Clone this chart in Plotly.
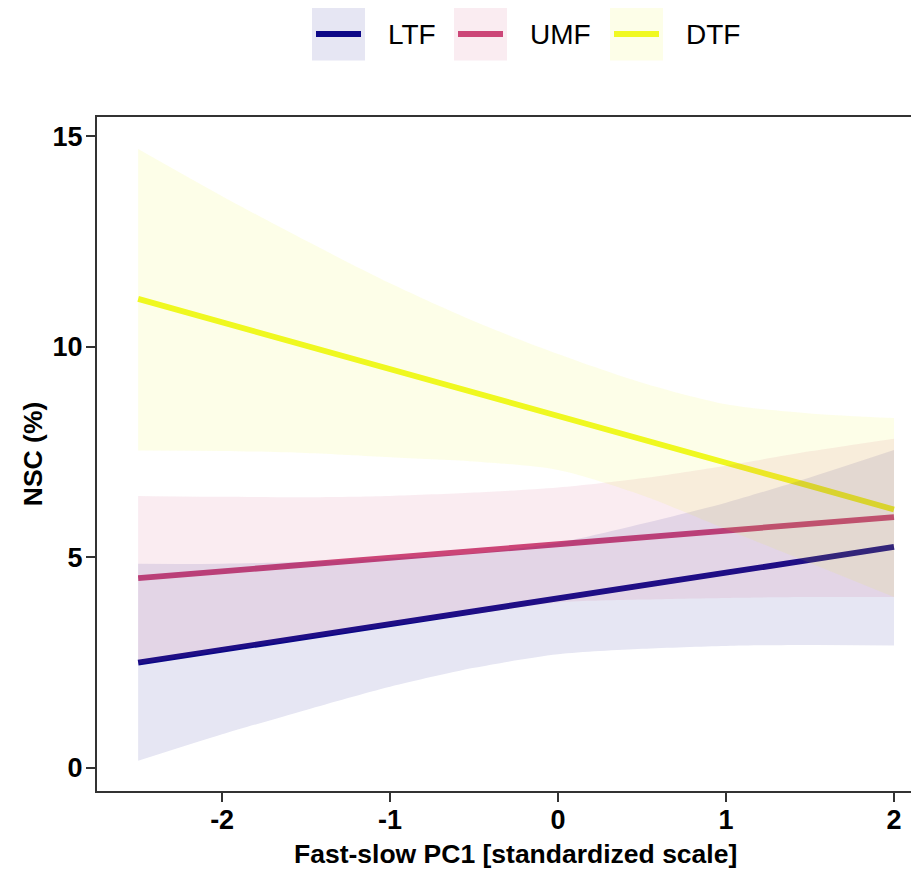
import plotly.graph_objects as go

# ---------------- data ----------------
x_grid = [-2.5, -2.0, -1.5, -1.0, -0.5, 0.0, 0.5, 1.0, 1.5, 2.0]

groups = ["LTF", "UMF", "DTF"]
colors = {"LTF": "#0D0887", "UMF": "#CC4678", "DTF": "#F0F921"}
fills = {"LTF": "rgba(13,8,135,0.10)", "UMF": "rgba(204,70,120,0.10)", "DTF": "rgba(240,249,33,0.10)"}

ltf_fit = [2.50, 2.81, 3.11, 3.42, 3.72, 4.03, 4.33, 4.64, 4.94, 5.25]
ltf_lower = [0.17, 0.80, 1.38, 1.93, 2.38, 2.70, 2.83, 2.90, 2.92, 2.91]
ltf_upper = [4.85, 4.85, 4.90, 4.98, 5.10, 5.35, 5.80, 6.30, 6.90, 7.55]

umf_fit = [4.51, 4.67, 4.83, 4.99, 5.15, 5.32, 5.48, 5.64, 5.80, 5.96]
umf_lower = [2.47, 2.78, 3.08, 3.38, 3.66, 3.93, 4.00, 4.04, 4.06, 4.06]
umf_upper = [6.46, 6.44, 6.43, 6.46, 6.54, 6.66, 6.88, 7.18, 7.52, 7.82]

dtf_fit = [11.14, 10.58, 10.03, 9.47, 8.92, 8.36, 7.81, 7.25, 6.70, 6.14]
dtf_lower = [7.54, 7.53, 7.48, 7.38, 7.28, 7.08, 6.48, 5.67, 4.87, 4.06]
dtf_upper = [14.70, 13.58, 12.52, 11.51, 10.61, 9.83, 9.15, 8.64, 8.42, 8.31]

fits = {"LTF": ltf_fit, "UMF": umf_fit, "DTF": dtf_fit}
lowers = {"LTF": ltf_lower, "UMF": umf_lower, "DTF": dtf_lower}
uppers = {"LTF": ltf_upper, "UMF": umf_upper, "DTF": dtf_upper}

x_ticks = [-2, -1, 0, 1, 2]
y_ticks = [0, 5, 10, 15]

x_title = "Fast-slow PC1 [standardized scale]"
y_title = "NSC (%)"

# ---------------- figure ----------------
fig = go.Figure()

# lines first (ribbons are drawn over them, as in the reference)
for g in groups:
    fig.add_trace(go.Scatter(x=x_grid, y=fits[g], mode="lines",
                             line=dict(color=colors[g], width=5.8),
                             name=g, showlegend=False, hoverinfo="skip"))

for g in groups:
    fig.add_trace(go.Scatter(x=x_grid, y=lowers[g], mode="lines",
                             line=dict(width=0, shape="spline", smoothing=0.8),
                             showlegend=False, hoverinfo="skip"))
    fig.add_trace(go.Scatter(x=x_grid, y=uppers[g], mode="lines",
                             line=dict(width=0, shape="spline", smoothing=0.8),
                             fill="tonexty", fillcolor=fills[g],
                             showlegend=False, hoverinfo="skip"))

# the page body adds an 8px offset; the figure fills the rest of the window
OFF = 8
W, H = 919 - OFF, 870 - OFF
L, R, T, B = 97 - OFF, 0, 116.5 - OFF, 79
pw, ph = W - L - R, H - T - B

def px_x(p):
    return (p - OFF - L) / pw

def px_y(p):
    return (H - B - (p - OFF)) / ph

# manual legend (ggplot-style keys), positions in window pixels
key_left = {"LTF": 312, "UMF": 454, "DTF": 610}
for g in groups:
    k = key_left[g]
    fig.add_shape(type="rect", xref="paper", yref="paper",
                  x0=px_x(k), x1=px_x(k + 53), y0=px_y(60), y1=px_y(7),
                  fillcolor=fills[g], line=dict(width=0), layer="above")
    fig.add_shape(type="line", xref="paper", yref="paper",
                  x0=px_x(k + 4), x1=px_x(k + 49), y0=px_y(33.5), y1=px_y(33.5),
                  line=dict(color=colors[g], width=6), layer="above")
    fig.add_annotation(x=px_x(k + 74), y=px_y(33.5), xref="paper", yref="paper",
                       text=g, showarrow=False, xanchor="left", yanchor="middle",
                       font=dict(family="Liberation Sans, Arial, sans-serif", size=28, color="#000000"))

tick_font = dict(family="Liberation Sans, Arial, sans-serif", size=27, color="#000000")
title_font = dict(family="Liberation Sans, Arial, sans-serif", size=26.5, color="#000000")

# x-axis title centred on the full (partly off-window) panel, as in the reference
fig.add_annotation(x=px_x(515), y=px_y(854), xref="paper", yref="paper",
                   text="<b>%s</b>" % x_title, showarrow=False,
                   xanchor="center", yanchor="middle", font=title_font)

fig.update_layout(
    width=W, height=H,
    margin=dict(l=L, r=R, t=T, b=B, autoexpand=False),
    paper_bgcolor="white", plot_bgcolor="white",
    showlegend=False,
    font=dict(family="Liberation Sans, Arial, sans-serif"),
)

fig.update_xaxes(
    range=[-2.745, 2.149],
    tickmode="array", tickvals=x_ticks, ticktext=["<b>%s</b>" % v for v in x_ticks],
    ticks="outside", ticklen=9, tickwidth=2, tickcolor="#333333",
    ticklabelstandoff=-5,
    showline=True, linecolor="#333333", linewidth=2, mirror=True,
    showgrid=False, zeroline=False,
    tickfont=tick_font,
)
fig.update_yaxes(
    range=[-0.546, 15.46],
    tickmode="array", tickvals=y_ticks, ticktext=["<b>%s</b>" % v for v in y_ticks],
    ticks="outside", ticklen=9, tickwidth=2, tickcolor="#333333",
    ticklabelstandoff=-2,
    showline=True, linecolor="#333333", linewidth=2, mirror=False,
    showgrid=False, zeroline=False,
    tickfont=tick_font,
    title=dict(text="<b>%s</b>" % y_title, font=title_font, standoff=2),
)

fig.write_html("out.html")
